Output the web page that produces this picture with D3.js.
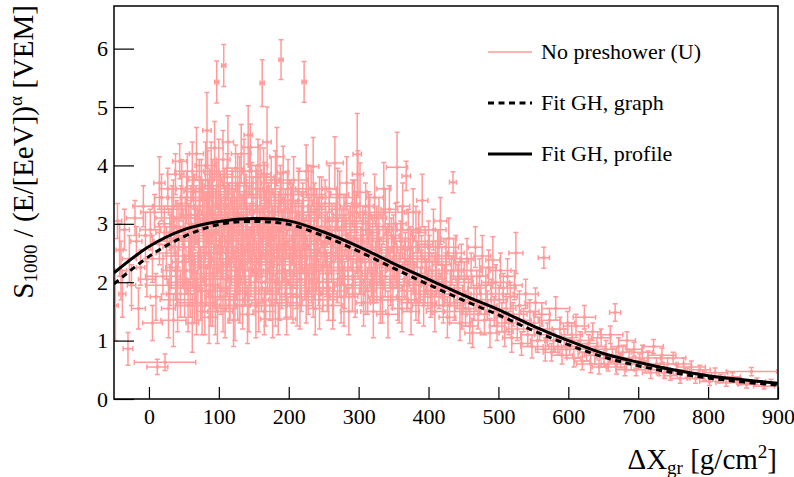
<!DOCTYPE html>
<html>
<head>
<meta charset="utf-8">
<script src="https://cdn.jsdelivr.net/npm/d3@7"></script>
<style>
  body { margin: 0; background: #fff; }
  svg text { font-family: "Liberation Serif", "DejaVu Serif", serif; fill: #000; }
</style>
</head>
<body>
<div id="viz"></div>
<script>
var w = 794, h = 477;
var serif = '"Liberation Serif", "DejaVu Serif", serif';

// x, y, ex, ey
var ptsLeft = [
  [-45,3.05,6,0.3],[-42,2.55,5,0.45],[-40,2.2,8,0.5],[-38,1.8,5,0.4],[-35,2.9,7,0.35],[-30,0.86,7,0.28],
  [-28,2.4,10,0.4],[-25,1.95,6,0.35],[-20,3.1,12,0.3],[-18,2.7,8,0.25],[-15,1.55,10,0.35],[-12,2.25,6,0.3],
  [-8,3.3,15,0.35],[-5,2.8,9,0.4],[-3,2.05,12,0.3],[-48,1.6,4,0.6],
  [2,2.9,15,0.35],[5,2.4,10,0.4],[8,3.2,20,0.3],[10,1.75,8,0.4],[12,0.55,15,0.13],[15,2.65,12,0.35],
  [18,3.45,10,0.4],[20,2.1,25,0.3],[22,3.0,8,0.3],[23,0.63,44,0.14],[25,2.5,15,0.45],[27,3.6,12,0.35],
  [28,1.55,10,0.5],[30,2.85,20,0.3],[32,2.25,8,0.35],[33,3.25,15,0.4],[35,1.35,18,0.45],[36,2.75,10,0.3],
  [38,3.85,12,0.35],[40,2.0,14,0.4],[40,3.1,30,0.3],[42,2.6,9,0.35],[44,4.07,10,0.3],[45,1.8,20,0.4],
  [46,3.35,8,0.3],[48,2.35,15,0.45],[49,2.95,11,0.3],[30,1.95,35,0.35],[15,3.7,8,0.45],[5,1.3,14,0.3]
];
var ptsPeak = [
  [52,3.1,15,0.35],[53,2.2,12,0.4],[55,3.8,10,0.4],[56,1.6,18,0.45],[58,2.7,8,0.3],[60,3.3,25,0.35],
  [61,2.45,10,0.4],[62,1.3,9,0.5],[64,3.55,14,0.3],[65,2.9,20,0.35],[66,2.05,12,0.35],[68,4.2,10,0.45],
  [69,3.0,8,0.3],[70,1.85,15,0.5],[72,2.6,22,0.3],[73,3.4,12,0.4],[74,2.25,10,0.35],[75,3.75,18,0.35],
  [76,1.5,8,0.4],[78,2.8,13,0.3],[79,3.15,30,0.4],[80,2.4,10,0.45],[81,4.0,15,0.4],[82,1.95,20,0.35],
  [83,4.6,6,0.65],[84,3.05,10,0.3],[85,2.7,16,0.4],[86,1.4,12,0.45],[87,3.5,9,0.35],[88,2.15,25,0.4],
  [89,3.9,11,0.5],[90,2.95,14,0.3],[91,1.75,10,0.5],[92,3.3,20,0.35],[93,2.5,8,0.4],[94,4.3,12,0.45],
  [95,1.6,15,0.5],[96,2.85,10,0.3],[97,5.43,3,0.36],[97,3.65,18,0.4],[98,2.3,9,0.35],[99,3.1,13,0.3],
  [60,2.6,40,0.3],[75,2.05,35,0.4],[90,3.45,45,0.35],[65,1.9,10,0.6],[85,3.2,10,0.55],
  [101,2.7,12,0.35],[102,3.5,20,0.4],[103,1.9,10,0.45],[104,3.1,8,0.3],[105,2.4,15,0.35],[106,4.1,10,0.5],
  [107,5.71,3,0.36],[108,2.9,25,0.3],[109,1.55,12,0.5],[110,3.3,9,0.35],[111,2.2,14,0.4],[112,3.8,18,0.4],
  [113,4.4,8,0.45],[114,2.6,10,0.3],[115,1.7,20,0.4],[116,3.0,12,0.35],[118,2.35,30,0.4],[119,3.6,10,0.35],
  [120,2.8,15,0.3],[121,1.35,8,0.45],[122,3.25,22,0.35],[123,2.05,10,0.5],[124,3.95,12,0.4],[125,2.55,18,0.35],
  [126,3.4,9,0.3],[127,1.8,15,0.45],[128,2.95,11,0.3],[130,3.7,25,0.45],[131,2.3,10,0.35],[132,4.2,14,0.5],
  [133,2.75,8,0.3],[134,1.6,20,0.4],[135,3.15,12,0.35],[136,2.45,16,0.4],[137,3.55,10,0.3],[138,2.0,28,0.4],
  [139,2.85,9,0.35],[140,3.3,13,0.4],[141,1.45,11,0.5],[142,4.52,6,0.5],[143,2.65,15,0.3],[144,3.9,10,0.4],
  [145,4.31,12,0.4],[146,2.2,18,0.45],[147,3.05,8,0.3],[148,2.5,20,0.35],[149,3.45,10,0.35],[110,2.5,40,0.3],
  [125,3.1,45,0.35],
  [151,2.8,12,0.3],[152,1.9,15,0.4],[153,3.6,10,0.4],[154,2.35,22,0.35],[155,3.2,9,0.3],[156,4.0,14,0.45],
  [157,1.65,10,0.5],[158,2.95,18,0.3],[159,2.5,11,0.35],[160,3.45,25,0.4],[161,2.1,8,0.45],[162,5.41,3,0.4],
  [163,2.75,13,0.3],[164,3.85,10,0.45],[165,1.5,16,0.4],[166,3.1,12,0.35],[167,2.4,20,0.4],[168,3.55,9,0.3],
  [169,4.4,6,0.6],[170,2.2,14,0.4],[171,2.9,10,0.3],[172,3.3,28,0.35],[173,1.85,12,0.5],[174,2.6,15,0.35],
  [175,3.75,11,0.4],[176,2.05,9,0.45],[177,3.0,20,0.3],[178,2.45,12,0.35],[180,3.4,10,0.4],[181,1.7,18,0.45],
  [182,2.8,14,0.3],[183,4.15,10,0.5],[184,2.3,25,0.35],[185,1.37,25,0.27],[186,3.2,9,0.35],[187,2.65,12,0.3],
  [188,3.6,16,0.4],[189,5.81,3,0.34],[190,2.0,10,0.45],[191,2.95,22,0.3],[192,3.88,8,0.45],[193,2.4,13,0.35],
  [195,3.25,11,0.35],[196,1.8,15,0.4],[197,2.7,10,0.3],[198,3.5,20,0.4],[160,2.7,50,0.3],[175,2.55,40,0.3]
];
var ptsDense = [
  [32,2.7,25,0.5],[35,3.3,30,0.45],[38,2.2,20,0.5],[41,1.7,25,0.55],[43,2.95,35,0.4],[47,3.6,20,0.5],
  [50,2.45,30,0.5],[51,1.9,22,0.5],[54,3.45,28,0.45],[57,2.85,35,0.5],[59,2.0,20,0.6],[62,3.9,25,0.5],
  [63,2.35,30,0.45],[67,3.15,22,0.5],[68,1.65,28,0.55],[71,2.75,32,0.5],[72,3.6,20,0.5],[74,1.95,25,0.6],
  [77,3.3,30,0.45],[78,2.5,22,0.5],[80,1.6,35,0.5],[82,3.0,25,0.55],[84,3.75,20,0.5],[86,2.3,28,0.5],
  [88,1.85,22,0.6],[89,2.8,30,0.5],[91,3.55,25,0.55],[93,2.1,20,0.55],[95,3.15,35,0.45],[96,2.6,25,0.5],
  [98,1.5,22,0.55],[100,3.85,20,0.6],[102,2.25,30,0.5],[104,2.95,25,0.5],[106,1.75,20,0.6],[108,3.45,28,0.5],
  [110,2.05,35,0.55],[112,2.7,22,0.5],[114,3.2,30,0.5],[116,1.9,25,0.55],[118,2.5,20,0.5],[119,3.35,28,0.55],
  [121,2.85,35,0.45],[123,1.6,22,0.6],[125,2.2,25,0.5],[127,3.65,20,0.55],[128,2.4,30,0.5],[130,1.85,28,0.55],
  [132,3.0,22,0.5],[134,2.6,35,0.5],[136,3.9,25,0.55],[137,2.1,20,0.5],[139,3.25,30,0.5],[141,2.75,22,0.55],
  [143,1.7,28,0.55],[145,2.45,25,0.5],[147,3.5,20,0.55],[149,2.9,35,0.45],[151,2.2,22,0.5],[153,1.6,28,0.55],
  [155,3.3,25,0.5],[157,2.55,30,0.5],[159,3.8,20,0.55],[161,2.0,25,0.5],[163,2.85,35,0.45],[165,3.5,22,0.55],
  [167,1.8,28,0.55],[169,2.65,25,0.5],[171,3.2,20,0.5],[173,2.35,30,0.5],[175,3.05,22,0.5],[177,1.6,25,0.55],
  [179,2.75,28,0.5],[181,3.7,20,0.55],[183,2.15,35,0.5],[185,2.9,22,0.5],[187,1.9,25,0.55],[189,3.35,30,0.5],
  [191,2.5,20,0.5],[193,3.0,28,0.45],[195,2.2,25,0.5],[197,1.65,22,0.55],[199,3.6,30,0.5],[201,2.6,25,0.5],
  [203,1.95,22,0.55],[205,3.2,30,0.5],[207,2.4,20,0.5],[209,2.9,35,0.45],[212,1.75,25,0.5],[214,3.4,22,0.5],
  [216,2.55,28,0.5],[218,2.05,25,0.55],[221,3.05,20,0.5],[223,2.65,30,0.45],[225,1.8,22,0.5],[228,3.5,25,0.5],
  [230,2.3,28,0.5],[232,2.85,20,0.45],[235,1.9,30,0.5],[237,3.2,25,0.5],[239,2.5,22,0.45],[242,2.95,28,0.5],
  [244,1.7,25,0.5],[247,3.3,20,0.5],[249,2.25,30,0.45],[252,2.7,25,0.45],[255,2.0,22,0.5],[258,3.1,28,0.45],
  [261,2.45,25,0.45],[264,1.85,20,0.5],[267,2.9,30,0.45],[270,3.45,22,0.5],[273,2.2,25,0.45],[276,2.65,28,0.45],
  [279,1.75,20,0.5],[282,3.05,25,0.45],[285,2.4,30,0.45],[288,2.9,22,0.4],[291,1.95,25,0.45],[294,3.3,20,0.45],
  [297,2.55,28,0.4],
  [302,2.2,25,0.4],[306,2.8,22,0.4],[310,1.9,28,0.45],[314,3.1,20,0.45],[318,2.5,25,0.4],[322,2.05,30,0.4],
  [326,2.9,22,0.4],[330,2.35,25,0.4],[334,1.75,20,0.45],[338,3.2,28,0.4],[342,2.6,22,0.4],[346,2.0,25,0.4],
  [350,2.75,30,0.4],[354,2.3,20,0.4],[358,1.7,25,0.4],[362,2.9,22,0.4],[366,2.4,28,0.35],[370,1.95,20,0.4],
  [374,2.6,25,0.35],[378,2.15,22,0.35],[382,2.9,28,0.4],[386,1.65,25,0.35],[390,2.45,20,0.35],[395,2.0,30,0.35],
  [400,2.7,22,0.35],[405,1.8,25,0.35],[410,2.35,20,0.35],[415,2.6,28,0.3],[420,1.95,22,0.35],[425,2.2,25,0.3],
  [430,1.6,20,0.3],[436,2.4,28,0.35],[442,2.0,22,0.3],[448,1.5,25,0.3]
];
var ptsMid = [
  [201,2.9,12,0.35],[202,2.2,18,0.4],[203,3.4,10,0.35],[205,2.6,14,0.3],[206,1.75,10,0.45],[207,3.75,20,0.4],
  [208,2.45,9,0.35],[210,3.1,15,0.3],[211,2.0,12,0.45],[212,2.8,25,0.3],[214,3.55,11,0.4],[215,2.35,10,0.35],
  [216,1.6,18,0.4],[218,3.0,13,0.3],[219,2.6,9,0.35],[220,3.3,16,0.4],[222,5.43,3,0.35],[223,2.15,12,0.45],
  [224,2.75,20,0.3],[225,3.9,10,0.45],[226,2.45,14,0.35],[228,1.85,11,0.4],[229,3.15,18,0.3],[230,2.55,10,0.35],
  [232,3.6,22,0.4],[233,2.05,9,0.4],[235,3.98,8,0.5],[236,2.8,15,0.3],[237,2.3,12,0.35],[238,1.55,10,0.45],
  [240,3.25,13,0.35],[241,2.65,20,0.3],[243,2.0,11,0.4],[244,3.45,9,0.35],[246,2.5,16,0.3],[247,2.95,12,0.35],
  [249,1.9,10,0.4],[215,2.9,60,0.3],[240,2.2,45,0.35],
  [251,2.7,12,0.35],[252,3.35,18,0.4],[254,2.15,10,0.4],[255,2.9,15,0.3],[257,1.8,12,0.45],[258,3.6,10,0.4],
  [260,2.5,20,0.35],[262,3.05,9,0.3],[263,1.6,14,0.4],[264,2.35,11,0.35],[266,4.04,12,0.45],[267,2.8,16,0.3],
  [268,3.25,10,0.35],[270,2.05,22,0.4],[272,2.6,9,0.35],[273,3.5,13,0.4],[275,1.75,12,0.45],[276,2.95,18,0.3],
  [277,2.4,10,0.35],[279,3.15,15,0.35],[280,1.95,11,0.4],[282,2.7,25,0.3],[283,3.7,10,0.45],[285,2.25,14,0.35],
  [286,1.5,12,0.4],[288,3.0,9,0.3],[289,2.55,16,0.35],[291,3.35,11,0.4],[292,2.1,20,0.35],[294,2.75,10,0.3],
  [295,1.8,13,0.4],[297,3.2,12,0.35],[298,4.19,6,0.7],[299,3.85,8,0.4],[299,2.4,15,0.35],[270,2.45,50,0.3],
  [302,3.54,10,0.5],[303,2.6,15,0.35],[304,2.0,12,0.4],[306,3.0,18,0.3],[307,1.65,10,0.4],[309,2.35,14,0.35],
  [310,3.3,11,0.4],[312,2.75,20,0.3],[313,1.85,12,0.4],[315,2.5,9,0.35],[316,3.15,16,0.35],[318,2.15,13,0.4],
  [320,2.85,10,0.3],[321,1.5,18,0.45],[323,3.45,12,0.4],[324,2.4,25,0.3],[326,2.0,10,0.35],[328,2.7,14,0.3],
  [329,3.1,11,0.35],[331,1.7,15,0.4],[333,2.3,12,0.35],[335,2.95,20,0.3],[336,3.6,10,0.45],[338,2.1,13,0.35],
  [340,2.55,9,0.3],[342,1.45,16,0.4],[344,3.25,12,0.4],[345,2.25,18,0.35],[347,2.8,11,0.3],[349,1.9,14,0.35],
  [320,1.95,45,0.3],
  [351,2.45,12,0.35],[353,3.0,15,0.35],[355,3.97,15,0.6],[356,1.75,10,0.4],[358,2.2,18,0.3],[360,2.7,12,0.35],
  [362,1.55,14,0.4],[363,3.3,10,0.4],[365,2.05,20,0.3],[367,2.55,11,0.3],[368,3.82,6,0.25],[369,1.85,13,0.35],
  [371,2.9,16,0.35],[373,2.3,10,0.3],[375,1.5,12,0.4],[377,2.6,22,0.3],[378,3.2,9,0.4],[380,2.0,14,0.35],
  [382,1.7,11,0.35],[384,2.4,18,0.3],[386,2.85,10,0.35],[388,1.95,15,0.3],[390,2.25,12,0.3],[391,3.4,8,0.45],
  [393,1.6,16,0.35],[395,2.65,11,0.3],[397,2.1,20,0.3],[399,1.85,13,0.3],[370,2.35,40,0.25],
  [401,2.5,12,0.3],[403,1.75,15,0.35],[405,2.2,10,0.3],[407,2.9,18,0.35],[409,1.5,12,0.35],[411,2.05,14,0.3],
  [413,2.6,11,0.3],[415,1.85,20,0.3],[417,3.05,9,0.4],[419,2.3,13,0.3],[421,1.6,16,0.3],[423,2.0,10,0.3],
  [425,2.45,15,0.3],[427,1.4,12,0.35],[429,2.75,11,0.35],[431,1.9,18,0.3],[433,2.2,10,0.25],[435,3.71,5,0.18],
  [437,1.65,14,0.3],[439,2.5,12,0.3],[441,1.8,20,0.25],[443,2.1,11,0.25],[445,1.3,15,0.3],[447,2.35,10,0.3],
  [449,1.7,13,0.25]
];
var ptsTail = [
  [451,2.05,12,0.3],[453,1.55,15,0.3],[455,2.4,10,0.35],[457,1.8,18,0.3],[459,1.25,12,0.3],[461,2.2,14,0.3],
  [463,1.13,11,0.25],[465,1.65,20,0.3],[467,2.6,10,0.35],[469,1.9,13,0.3],[471,1.45,16,0.25],[473,2.1,11,0.3],
  [475,1.7,15,0.25],[477,2.45,12,0.35],[480,1.35,18,0.25],[482,1.95,10,0.3],[484,1.6,14,0.25],[486,2.25,11,0.3],
  [488,1.13,13,0.25],[490,1.8,16,0.25],[492,2.38,10,0.4],[494,1.5,12,0.25],[496,2.0,20,0.3],[498,1.25,11,0.25],
  [501,1.7,12,0.25],[503,2.2,15,0.3],[505,1.4,10,0.25],[507,1.9,18,0.25],[509,1.15,12,0.25],[511,1.55,14,0.25],
  [513,2.1,11,0.3],[515,1.3,16,0.2],[517,1.75,10,0.25],[519,1.05,13,0.25],[521,1.45,20,0.2],[523,1.95,11,0.25],
  [525,2.5,10,0.35],[527,1.2,15,0.2],[530,1.6,12,0.25],[533,0.95,14,0.2],[536,1.35,11,0.2],[539,1.8,18,0.25],
  [542,1.1,10,0.2],[545,1.5,13,0.2],[548,0.9,16,0.2],
  [551,1.3,12,0.2],[553,1.65,15,0.25],[556,1.0,10,0.2],[559,1.2,18,0.2],[562,1.45,12,0.2],[565,2.42,8,0.18],
  [567,0.85,14,0.2],[570,1.1,11,0.2],[573,1.35,16,0.2],[576,0.8,12,0.15],[579,1.0,10,0.2],[582,1.55,20,0.2],
  [585,0.9,13,0.15],[588,1.2,11,0.2],[591,0.75,15,0.15],[594,1.05,12,0.15],[597,0.85,18,0.15],[599,1.3,10,0.2],
  [602,0.9,12,0.15],[605,1.1,15,0.2],[608,0.7,10,0.15],[611,1.25,18,0.2],[614,0.85,12,0.15],[617,1.0,14,0.15],
  [620,0.65,11,0.15],[623,1.4,16,0.2],[626,0.8,10,0.15],[629,0.95,13,0.15],[632,0.6,20,0.15],[635,1.15,11,0.15],
  [638,0.75,15,0.15],[641,0.9,12,0.15],[644,0.55,10,0.12],[647,1.05,14,0.15],
  [651,0.7,12,0.15],[654,0.85,15,0.15],[657,0.6,10,0.12],[660,1.1,18,0.15],[663,0.75,12,0.12],[667,1.48,8,0.15],
  [669,0.55,14,0.12],[672,0.9,11,0.15],[675,0.65,16,0.12],[678,0.8,10,0.12],[681,0.5,13,0.1],[684,1.0,12,0.15],
  [687,0.7,15,0.12],[690,0.6,20,0.1],[694,0.85,11,0.12],[697,0.5,14,0.1],
  [702,0.65,12,0.12],[706,0.8,15,0.12],[710,0.55,10,0.1],[714,0.7,18,0.12],[718,0.45,12,0.1],[722,0.9,14,0.12],
  [726,0.6,11,0.1],[730,0.5,16,0.1],[734,0.75,20,0.12],[738,0.45,12,0.1],[742,0.6,15,0.1],[746,0.4,10,0.08],
  [750,0.7,18,0.1],[755,0.5,12,0.08],[760,0.35,14,0.08],[765,0.6,11,0.1],[770,0.45,16,0.08],[776,0.55,20,0.1],
  [782,0.35,12,0.08],[788,0.5,15,0.08],[795,0.4,10,0.08],[802,0.3,14,0.07],[810,0.45,18,0.08],[818,0.35,12,0.07],
  [826,0.28,15,0.06],[835,0.38,11,0.07],[845,0.3,14,0.06],[855,0.25,12,0.06],[862,0.47,36,0.07],[870,0.3,12,0.06],
  [880,0.22,15,0.05],[890,0.28,10,0.06]
];

// fitted curves, read at these x positions
var curveX     = [-50, 0, 50, 100, 150, 200, 250, 300, 350, 400, 450, 500, 550, 600, 650, 700, 750, 800, 850, 900];
var fitProfile = [2.16,2.61,2.90,3.04,3.09,3.05,2.86,2.61,2.32,2.05,1.78,1.53,1.25,1.00,0.78,0.63,0.50,0.40,0.33,0.27];
var fitGraph   = [1.97,2.44,2.78,2.99,3.04,2.99,2.79,2.53,2.24,1.96,1.69,1.44,1.17,0.93,0.72,0.57,0.45,0.36,0.29,0.24];

var xMajor = d3.range(0, 901, 100);
var xMinor = d3.range(-40, 901, 20);
var yMajor = d3.range(0, 7, 1);
var yMinor = d3.range(0, 6.7, 0.2);

var legendItems = ['No preshower (U)', 'Fit GH, graph', 'Fit GH, profile'];

var pink = '#ff9b9b';

var svg = d3.select('#viz')
            .append('svg')
            .attr('width', w)
            .attr('height', h)

var x = d3.scaleLinear().domain([-50, 900]).range([114, 778])
var y = d3.scaleLinear().domain([0, 6.73]).range([399, 6])

svg.append('clipPath').attr('id', 'frame')
  .append('rect')
  .attr('x', 114).attr('y', 6)
  .attr('width', 664).attr('height', 393)

var pts = ptsLeft.concat(ptsDense, ptsPeak, ptsMid, ptsTail)

var g = svg.append('g').attr('clip-path', 'url(#frame)')

var bars = g.append('g')
  .attr('stroke', pink)
  .attr('stroke-width', 1.5)
  .attr('fill', 'none')

var cap = 2.5
pts.forEach(function(p) {
  var cx = x(p[0]), cy = y(p[1])
  var x0 = x(p[0] - p[2]), x1 = x(p[0] + p[2])
  var y0 = y(p[1] - p[3]), y1 = y(p[1] + p[3])
  var d = 'M' + x0 + ',' + cy + 'H' + x1 +
          'M' + cx + ',' + y0 + 'V' + y1 +
          'M' + x0 + ',' + (cy - cap) + 'V' + (cy + cap) +
          'M' + x1 + ',' + (cy - cap) + 'V' + (cy + cap) +
          'M' + (cx - cap) + ',' + y0 + 'H' + (cx + cap) +
          'M' + (cx - cap) + ',' + y1 + 'H' + (cx + cap)
  bars.append('path').attr('d', d)
})

g.append('g').selectAll('rect')
  .data(pts)
  .enter()
  .append('rect')
  .attr('x', d => x(d[0]) - 1.5)
  .attr('y', d => y(d[1]) - 1.5)
  .attr('width', 3)
  .attr('height', 3)
  .attr('fill', pink)

var line = d3.line()
  .x(d => x(d[0]))
  .y(d => y(d[1]))
  .curve(d3.curveCatmullRom)

g.append('path')
  .datum(curveX.map((v, i) => [v, fitGraph[i]]))
  .attr('d', line)
  .attr('fill', 'none')
  .attr('stroke', '#000')
  .attr('stroke-width', 3)
  .attr('stroke-dasharray', '6,4.5')

g.append('path')
  .datum(curveX.map((v, i) => [v, fitProfile[i]]))
  .attr('d', line)
  .attr('fill', 'none')
  .attr('stroke', '#000')
  .attr('stroke-width', 3)

// axes, ticks pointing inwards
var xAx = svg.append('g').attr('transform', 'translate(0,399)')
xAx.call(d3.axisBottom(x).tickValues(xMinor).tickSize(-6).tickFormat(''))
xAx.call(d3.axisBottom(x).tickValues(xMajor).tickSize(-12).tickPadding(9).tickFormat(d3.format('d')))
var yAx = svg.append('g').attr('transform', 'translate(114,0)')
yAx.call(d3.axisLeft(y).tickValues(yMinor).tickSize(-10).tickFormat(''))
yAx.call(d3.axisLeft(y).tickValues(yMajor).tickSize(-20).tickPadding(6).tickFormat(d3.format('d')))

svg.selectAll('.domain').remove()
svg.selectAll('.tick line').attr('stroke', '#000').attr('stroke-width', 1.2)
svg.selectAll('.tick text')
  .attr('font-family', null)
  .style('font-family', serif)
  .style('font-size', '22px')

svg.append('rect')
  .attr('x', 114).attr('y', 6)
  .attr('width', 664).attr('height', 393)
  .attr('fill', 'none')
  .attr('stroke', '#000')
  .attr('stroke-width', 1.5)

// titles
var xt = svg.append('text')
  .attr('x', 777).attr('y', 469)
  .attr('text-anchor', 'end')
  .style('font-family', serif)
  .style('font-size', '29px')
xt.append('tspan').text('ΔX')
xt.append('tspan').attr('dy', 5).style('font-size', '19px').text('gr')
xt.append('tspan').attr('dy', -5).text(' [g/cm')
xt.append('tspan').attr('dy', -11).style('font-size', '19px').text('2')
xt.append('tspan').attr('dy', 11).text(']')

var yt = svg.append('text')
  .attr('transform', 'translate(33,5) rotate(-90)')
  .attr('text-anchor', 'end')
  .style('font-family', serif)
  .style('font-size', '29px')
yt.append('tspan').text('S')
yt.append('tspan').attr('dy', 4).style('font-size', '19px').text('1000')
yt.append('tspan').attr('dy', -4).text(' / (E/[EeV])')
yt.append('tspan').attr('dy', -11).style('font-size', '19px').text('α')
yt.append('tspan').attr('dy', 11).text(' [VEM]')

// legend
var legY = [52, 103, 154]
var leg = svg.append('g')
legendItems.forEach(function(t, i) {
  var ln = leg.append('line')
    .attr('x1', 488).attr('x2', 532)
    .attr('y1', legY[i]).attr('y2', legY[i])
  if (i == 0) ln.attr('stroke', pink).attr('stroke-width', 1.4)
  else ln.attr('stroke', '#000').attr('stroke-width', 3)
  if (i == 1) ln.attr('stroke-dasharray', '6,4.5')
  leg.append('text')
    .attr('x', 541).attr('y', legY[i] + 7)
    .style('font-family', serif)
    .style('font-size', '22px')
    .text(t)
})
</script>
</body>
</html>
